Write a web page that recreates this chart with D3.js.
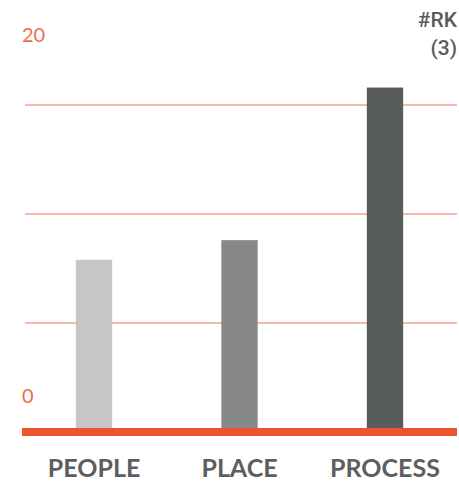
<!doctype html>
<html>
    <head>
        <script src="https://d3js.org/d3.v7.min.js"></script>
        <style>
            body { margin: 0; background: #fff; }
            text { font-family: Lato, 'Open Sans', sans-serif; }
            .cat { font-size: 25px; fill: #5d5e60; text-anchor: middle; font-weight: bold; }
            .lim { font-size: 20px; fill: #f26b4a; }
            .rk { font-family: Roboto, sans-serif; font-size: 21px; fill: #5b5b5b; font-weight: 500; text-anchor: end; }
        </style>
    </head>
    <body>
        <svg height="495" id="chart" width="459"></svg>
        <script>
            const categories = ["PEOPLE", "PLACE", "PROCESS"];
            const values = [7.9, 8.8, 15.8];
            const barColors = ["#c6c6c6", "#86888a", "#595c5c"];
            const gridValues = [5, 10, 15];
            const limitLabels = ["0", "20"];
            const rkLabels = ["#RK", "(3)"];

            const chart = d3.select("#chart");
            const left = 22, right = 457, bottom = 432;

            const scaleX = d3.scaleBand()
                .domain(categories)
                .range([left, right])
                .paddingInner(0.75)
                .paddingOuter(0.37);
            const scaleY = d3.scaleLinear()
                .domain([0, 20])
                .range([bottom, bottom - 436]);

            // grid lines
            chart.append("g")
                .selectAll("line")
                .data(gridValues)
                .enter()
                .append("line")
                .attr("x1", 25)
                .attr("x2", right)
                .attr("y1", d => scaleY(d))
                .attr("y2", d => scaleY(d))
                .attr("stroke", "#f5a28d")
                .attr("stroke-width", 1.5);

            chart.append("g")
                .selectAll("rect")
                .data(values)
                .enter()
                .append("rect")
                .attr("x", (d, i) => scaleX(categories[i]))
                .attr("width", scaleX.bandwidth())
                .attr("y", d => scaleY(d))
                .attr("height", d => scaleY(0) - scaleY(d))
                .style("fill", (d, i) => barColors[i]);

            // baseline
            chart.append("line")
                .attr("x1", left)
                .attr("x2", right)
                .attr("y1", scaleY(0))
                .attr("y2", scaleY(0))
                .attr("stroke", "#ef532d")
                .attr("stroke-width", 8);

            const xAxis = d3.axisBottom(scaleX).tickSize(0).tickPadding(0);
            const gx = chart.append("g")
                .attr("transform", "translate(0," + 477 + ")")
                .call(xAxis);
            gx.select(".domain").remove();
            gx.selectAll("text")
                .attr("class", "cat")
                .attr("dy", 0)
                .attr("y", 0)
                .attr("fill", null)
                .attr("font-size", null)
                .attr("font-family", null);

            chart.append("text").attr("class", "lim")
                .attr("x", 22).attr("y", 403).text(limitLabels[0]);
            chart.append("text").attr("class", "lim")
                .attr("x", 22).attr("y", 42).text(limitLabels[1]);

            chart.append("g")
                .selectAll("text")
                .data(rkLabels)
                .enter()
                .append("text")
                .attr("class", "rk")
                .attr("x", 457)
                .attr("y", (d, i) => 27 + i * 28)
                .text(d => d);
        </script>
    </body>
</html>
